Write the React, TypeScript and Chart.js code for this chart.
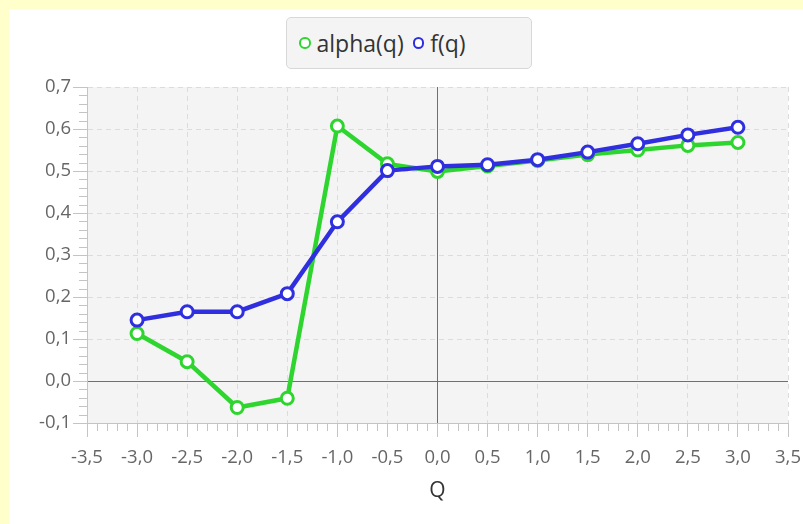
import React, { useEffect, useRef } from 'react';
import { Chart, registerables } from 'chart.js';

Chart.register(...registerables);

const qValues = [-3, -2.5, -2, -1.5, -1, -0.5, 0, 0.5, 1, 1.5, 2, 2.5, 3];
const alphaValues = [0.113, 0.046, -0.063, -0.041, 0.607, 0.517, 0.499, 0.512, 0.525, 0.539, 0.55, 0.561, 0.568];
const fValues = [0.145, 0.165, 0.165, 0.208, 0.379, 0.501, 0.511, 0.515, 0.527, 0.545, 0.565, 0.586, 0.604];
const seriesNames = ['alpha(q)', 'f(q)'];
const xRange = [-3.5, 3.5];
const yRange = [-0.1, 0.7];
const axisTitle = 'Q';

const GREEN = '#2fd52f';
const BLUE = '#2f2fdf';
const FONT = '"Open Sans", "DejaVu Sans", sans-serif';

const fmt = (v: number) => {
  const n = Math.abs(v) < 1e-9 ? 0 : v;
  return n.toFixed(1).replace('.', ',');
};

const isZero = (ctx: any) => ctx && ctx.tick && Math.abs(ctx.tick.value) < 1e-9;

const bgPlugin = {
  id: 'plotBg',
  beforeDraw(chart: any) {
    const { ctx, chartArea } = chart;
    ctx.save();
    ctx.fillStyle = '#f4f4f4';
    ctx.fillRect(chartArea.left, chartArea.top, chartArea.right - chartArea.left, chartArea.bottom - chartArea.top);
    ctx.restore();
  },
};

const minorTickPlugin = {
  id: 'minorTicks',
  afterDraw(chart: any) {
    const { ctx, chartArea, scales } = chart;
    const xs = scales.x;
    const ys = scales.y;
    ctx.save();
    ctx.strokeStyle = '#c4c4c4';
    ctx.lineWidth = 1;
    ctx.beginPath();
    for (let i = -35; i <= 35; i++) {
      if (i % 5 === 0) continue;
      const px = Math.round(xs.getPixelForValue(i / 10)) + 0.5;
      ctx.moveTo(px, chartArea.bottom);
      ctx.lineTo(px, chartArea.bottom + 8);
    }
    for (let i = -10; i <= 70; i += 2) {
      if (i % 10 === 0) continue;
      const py = Math.round(ys.getPixelForValue(i / 100)) + 0.5;
      ctx.moveTo(chartArea.left - 8, py);
      ctx.lineTo(chartArea.left, py);
    }
    ctx.stroke();
    ctx.restore();
  },
};

function LegendItem({ color, label, gap }: { color: string; label: string; gap: number }) {
  return (
    <div style={{ display: 'flex', alignItems: 'center', marginRight: gap }}>
      <span
        style={{
          display: 'inline-block',
          width: 7.5,
          height: 7.5,
          borderRadius: '50%',
          border: `2.75px solid ${color}`,
          background: '#fff',
          marginRight: 6,
        }}
      />
      <span style={{ font: `23px ${FONT}`, color: '#333', lineHeight: '28px' }}>{label}</span>
    </div>
  );
}

export default function App() {
  const ref = useRef<HTMLCanvasElement | null>(null);

  useEffect(() => {
    if (!ref.current) return;
    const chart = new Chart(ref.current, {
      type: 'line',
      data: {
        datasets: [
          {
            label: seriesNames[0],
            data: qValues.map((q, i) => ({ x: q, y: alphaValues[i] })),
            borderColor: GREEN,
            backgroundColor: '#ffffff',
            pointBackgroundColor: '#ffffff',
            pointBorderColor: GREEN,
            borderWidth: 4.5,
            pointRadius: 6,
            pointBorderWidth: 3,
            tension: 0,
            order: 2,
          },
          {
            label: seriesNames[1],
            data: qValues.map((q, i) => ({ x: q, y: fValues[i] })),
            borderColor: BLUE,
            backgroundColor: '#ffffff',
            pointBackgroundColor: '#ffffff',
            pointBorderColor: BLUE,
            borderWidth: 4.5,
            pointRadius: 6,
            pointBorderWidth: 3,
            tension: 0,
            order: 1,
          },
        ],
      },
      options: {
        animation: false,
        responsive: false,
        layout: { padding: { top: 78, right: 0, left: 0, bottom: 0 } },
        plugins: {
          legend: { display: false },
          tooltip: { enabled: false },
        },
        scales: {
          x: {
            type: 'linear',
            min: xRange[0],
            max: xRange[1],
            afterFit: (s: any) => {
              s.height = 101;
              s.paddingRight = 15;
            },
            ticks: {
              stepSize: 0.5,
              callback: (v: any) => fmt(Number(v)),
              color: '#666',
              font: { family: FONT, size: 18.5 },
              padding: 10,
              maxRotation: 0,
              autoSkip: false,
            },
            grid: {
              color: (c: any) => (isZero(c) ? '#6f6f6f' : '#dcdcdc'),
              tickColor: '#c4c4c4',
              tickLength: 14,
            },
            border: {
              color: '#c4c4c4',
              dash: (c: any) => (isZero(c) ? [] : [5, 4]),
            },
            title: {
              display: true,
              text: axisTitle,
              color: '#333',
              font: { family: FONT, size: 21 },
              padding: { top: 4, bottom: 20 },
            },
          },
          y: {
            type: 'linear',
            min: yRange[0],
            max: yRange[1],
            afterFit: (s: any) => {
              s.width = 78;
            },
            ticks: {
              stepSize: 0.1,
              callback: (v: any) => fmt(Number(v)),
              color: '#666',
              font: { family: FONT, size: 18.5 },
              padding: 2,
            },
            grid: {
              color: (c: any) => (isZero(c) ? '#6f6f6f' : '#dcdcdc'),
              tickColor: '#c4c4c4',
              tickLength: 14,
            },
            border: {
              color: '#c4c4c4',
              dash: (c: any) => (isZero(c) ? [] : [5, 4]),
            },
          },
        },
      },
      plugins: [bgPlugin, minorTickPlugin],
    } as any);
    return () => chart.destroy();
  }, []);

  return (
    <div style={{ position: 'fixed', left: 0, top: 0, width: 803, height: 524, background: '#ffffcc' }}>
      <div style={{ position: 'absolute', left: 9, top: 9, width: 794, height: 515, background: '#ffffff' }}>
        <canvas ref={ref} width={794} height={515} style={{ display: 'block' }} />
        <div
          style={{
            position: 'absolute',
            left: 277,
            top: 8,
            width: 246,
            height: 52,
            boxSizing: 'border-box',
            border: '1px solid #d8d8d8',
            borderRadius: 5,
            background: '#f4f4f4',
            display: 'flex',
            alignItems: 'center',
            paddingLeft: 12,
          }}
        >
          <LegendItem color={GREEN} label={seriesNames[0]} gap={9} />
          <LegendItem color={BLUE} label={seriesNames[1]} gap={0} />
        </div>
      </div>
    </div>
  );
}
